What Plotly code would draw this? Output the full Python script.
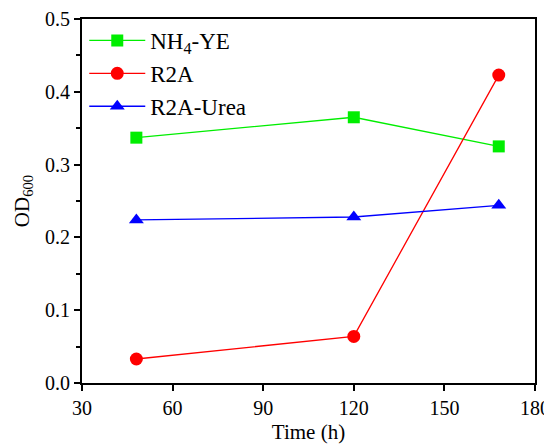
import plotly.graph_objects as go

time_h = [48, 120, 168]
nh4_ye = [0.337, 0.365, 0.325]
r2a = [0.033, 0.064, 0.423]
r2a_urea = [0.224, 0.228, 0.244]

series = [
    ("NH<sub>4</sub>-YE", nh4_ye, "#00ee00", "square"),
    ("R2A", r2a, "#ff0000", "circle"),
    ("R2A-Urea", r2a_urea, "#0000ff", "triangle-up"),
]

fig = go.Figure()
for name, vals, col, sym in series:
    fig.add_trace(go.Scatter(
        x=time_h, y=vals, name=name, mode="lines+markers",
        line=dict(color=col, width=1.3),
        marker=dict(color=col, symbol=sym, size=13 if sym != "square" else 12),
    ))

font = "Liberation Serif"
fig.update_layout(
    width=544, height=438,
    margin=dict(l=74, r=17, t=11, b=63, autoexpand=False),
    paper_bgcolor="white", plot_bgcolor="white",
    font=dict(family=font, size=20, color="black"),
    showlegend=True,
    legend=dict(x=0.005, y=1.0, xanchor="left", yanchor="top",
                bgcolor="rgba(0,0,0,0)", font=dict(size=23, family=font),
                itemwidth=56, tracegroupgap=0),
)
fig.update_xaxes(
    range=[30, 180], tickvals=[30, 60, 90, 120, 150, 180],
    ticks="outside", ticklen=6, tickwidth=2, tickcolor="black",
    showline=True, linewidth=2, linecolor="black", mirror=True,
    showgrid=False, zeroline=False, automargin=False,
    title=dict(text="Time (h)", font=dict(size=21, family=font), standoff=6),
    tickfont=dict(size=20, family=font),
)
fig.update_yaxes(
    range=[0, 0.5], tickvals=[0, 0.1, 0.2, 0.3, 0.4, 0.5], tickformat=".1f",
    ticks="outside", ticklen=6, tickwidth=2, tickcolor="black",
    minor=dict(dtick=0.05, tick0=0, ticks="outside", ticklen=4, tickwidth=2, tickcolor="black"),
    showline=True, linewidth=2, linecolor="black", mirror=True,
    showgrid=False, zeroline=False, automargin=False,
    title=dict(text="OD<sub>600</sub>", font=dict(size=21, family=font), standoff=10),
    tickfont=dict(size=20, family=font),
)
fig.write_html("out.html")
